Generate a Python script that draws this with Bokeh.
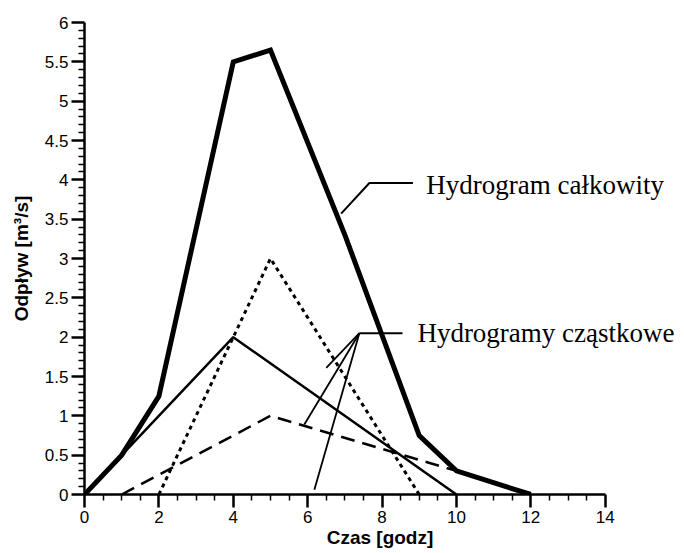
from bokeh.plotting import figure
from bokeh.models import FixedTicker, Range1d
from bokeh.embed import file_html
from bokeh.resources import INLINE
from bokeh.core.properties import value

# ---- data ----
total_x = [0, 1, 2, 4, 5, 7, 9, 10, 12]
total_y = [0, 0.5, 1.25, 5.5, 5.65, 3.3, 0.75, 0.3, 0]

solid_x = [0, 4, 10]
solid_y = [0, 2, 0]

dotted_x = [2, 5, 9]
dotted_y = [0, 3, 0]

dashed_x = [1, 5, 10]
dashed_y = [0, 1, 0.3]

x_ticks = [0, 2, 4, 6, 8, 10, 12, 14]
y_ticks = [0, 0.5, 1, 1.5, 2, 2.5, 3, 3.5, 4, 4.5, 5, 5.5, 6]
x_minor = [0.5, 1, 1.5, 2.5, 3, 3.5, 4.5, 5, 5.5, 6.5, 7, 7.5, 8.5, 9, 9.5,
           10.5, 11, 11.5, 12.5, 13, 13.5]
y_minor = [round(i * 0.1, 1) for i in range(0, 61) if i % 5 != 0]

# annotation leader lines
lead_total_x = [6.9, 7.66, 8.83]
lead_total_y = [3.57, 3.96, 3.96]
lead_part_apex = (7.39, 2.05)
lead_part_h_end = 8.55
lead_part_ends_x = [6.5, 5.91, 6.18]
lead_part_ends_y = [1.61, 0.89, 0.06]

label_total = "Hydrogram całkowity"
label_total_pos = (9.19, 3.93)
label_part = "Hydrogramy cząstkowe"
label_part_pos = (8.95, 2.05)

# ---- figure ----
p = figure(width=675, height=550, output_backend="svg", toolbar_location=None,
           x_range=Range1d(0, 15.89), y_range=Range1d(0, 6))
p.min_border_left = 84
p.min_border_right = 0
p.min_border_top = 22
p.min_border_bottom = 0
p.outline_line_color = None
p.background_fill_color = "white"
p.border_fill_color = "white"
p.xgrid.visible = False
p.ygrid.visible = False

p.line(total_x, total_y, line_width=5, color="black", line_join="miter")
p.line(solid_x, solid_y, line_width=2.5, color="black")
p.line(dotted_x, dotted_y, line_width=3, color="black", line_dash="4 4")
p.line(dashed_x, dashed_y, line_width=2.5, color="black", line_dash="14 8")

p.line(lead_total_x, lead_total_y, line_width=2, color="black")
p.line([lead_part_apex[0], lead_part_h_end], [lead_part_apex[1], lead_part_apex[1]],
       line_width=2, color="black")
p.segment(x0=[lead_part_apex[0]] * len(lead_part_ends_x),
          y0=[lead_part_apex[1]] * len(lead_part_ends_y),
          x1=lead_part_ends_x, y1=lead_part_ends_y, line_width=1.8, color="black")

p.text(x=[label_total_pos[0]], y=[label_total_pos[1]], text=[label_total],
       text_font=value("Liberation Serif"), text_font_size="27px",
       text_baseline="middle", text_align="left", text_color="black")
p.text(x=[label_part_pos[0]], y=[label_part_pos[1]], text=[label_part],
       text_font=value("Liberation Serif"), text_font_size="27px",
       text_baseline="middle", text_align="left", text_color="black")

# axes
xa = p.xaxis[0]
xa.ticker = FixedTicker(ticks=x_ticks, minor_ticks=x_minor)
xa.major_label_overrides = {t: f"{t:g}" for t in x_ticks}
xa.axis_label = "Czas [godz]"

ya = p.yaxis[0]
ya.ticker = FixedTicker(ticks=y_ticks, minor_ticks=y_minor)
ya.major_label_overrides = {t: f"{t:g}" for t in y_ticks}
ya.axis_label = "Odpływ [m³/s]"

xa.bounds = (0, 14)
ya.bounds = (0, 6)

for ax in (xa, ya):
    ax.axis_line_width = 2.5
    ax.axis_line_color = "black"
    ax.major_tick_line_width = 2.5
    ax.major_tick_line_color = "black"
    ax.major_tick_out = 13
    ax.major_tick_in = 0
    ax.minor_tick_line_width = 1.5
    ax.minor_tick_line_color = "black"
    ax.minor_tick_out = 6
    ax.minor_tick_in = 0
    ax.major_label_text_font = "Liberation Sans"
    ax.major_label_text_font_size = "17px"
    ax.major_label_text_color = "black"
    ax.axis_label_text_font = "Liberation Sans"
    ax.axis_label_text_font_style = "bold"
    ax.axis_label_text_font_size = "19px"
    ax.axis_label_text_color = "black"
    ax.major_label_standoff = 3
    ax.axis_label_standoff = 1

ya.axis_label_standoff = 10

with open("out.html", "w") as f:
    f.write(file_html(p, INLINE))
